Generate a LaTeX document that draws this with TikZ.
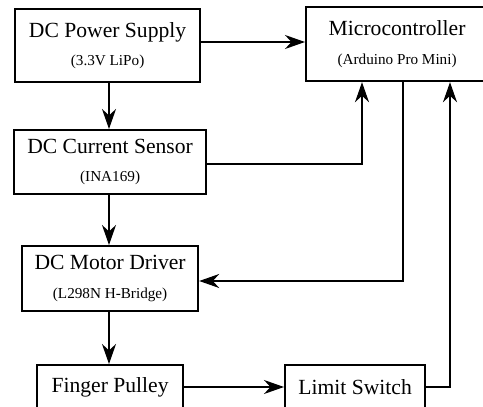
\documentclass[tikz,border=0pt]{standalone}
\usepackage{fontspec}
\setmainfont{Liberation Serif}
\usetikzlibrary{arrows.meta}
\begin{document}
\begin{tikzpicture}[x=0.5pt,y=-0.5pt,
  blk/.style={draw,line width=1.1pt,inner sep=0pt,align=center,anchor=north west},
  conn/.style={line width=0.6pt,-{Stealth[length=10pt,width=7pt,inset=3.2pt]}},
  mainf/.style={font=\fontsize{10.8}{12}\selectfont},
]
\useasboundingbox (0,0) rectangle (483,407);
\newcommand{\sub}[1]{\\[2.2pt]{\fontsize{7.6}{9}\selectfont #1}}
\node[blk,mainf,minimum width=92.5pt,minimum height=36.5pt] (ps) at (14,8) {DC Power Supply\sub{(3.3V LiPo)}};
\node[blk,mainf,minimum width=91pt,minimum height=37pt] (mc) at (305,6) {Microcontroller\sub{(Arduino Pro Mini)}};
\node[blk,mainf,minimum width=96pt,minimum height=32pt] (cs) at (13,129) {DC Current Sensor\sub{(INA169)}};
\node[blk,mainf,minimum width=88pt,minimum height=32.5pt] (md) at (21,245) {DC Motor Driver\sub{(L298N H-Bridge)}};
\node[blk,mainf,minimum width=73pt,minimum height=22pt] (fp) at (36,364) {Finger Pulley};
\node[blk,mainf,minimum width=70pt,minimum height=22pt] (ls) at (284,364) {Limit Switch};
\coordinate (c1) at (362,164);
\coordinate (c2) at (403,281);
\coordinate (c3) at (450,387);
\draw[conn] (ps.east |- 0,42) -- (mc.west |- 0,42);
\draw[conn] (ps.south -| 109,0) -- (cs.north -| 109,0);
\draw[conn] (cs.east |- c1) -- (c1) -- (c1 |- mc.south);
\draw[conn] (cs.south -| 109,0) -- (md.north -| 109,0);
\draw[conn] (mc.south -| c2) -- (c2) -- (c2 -| md.east);
\draw[conn] (md.south -| 109,0) -- (fp.north -| 109,0);
\draw[conn] (fp.east |- c3) -- (ls.west |- c3);
\draw[conn] (ls.east |- c3) -- (c3) -- (c3 |- mc.south);
\end{tikzpicture}
\end{document}
